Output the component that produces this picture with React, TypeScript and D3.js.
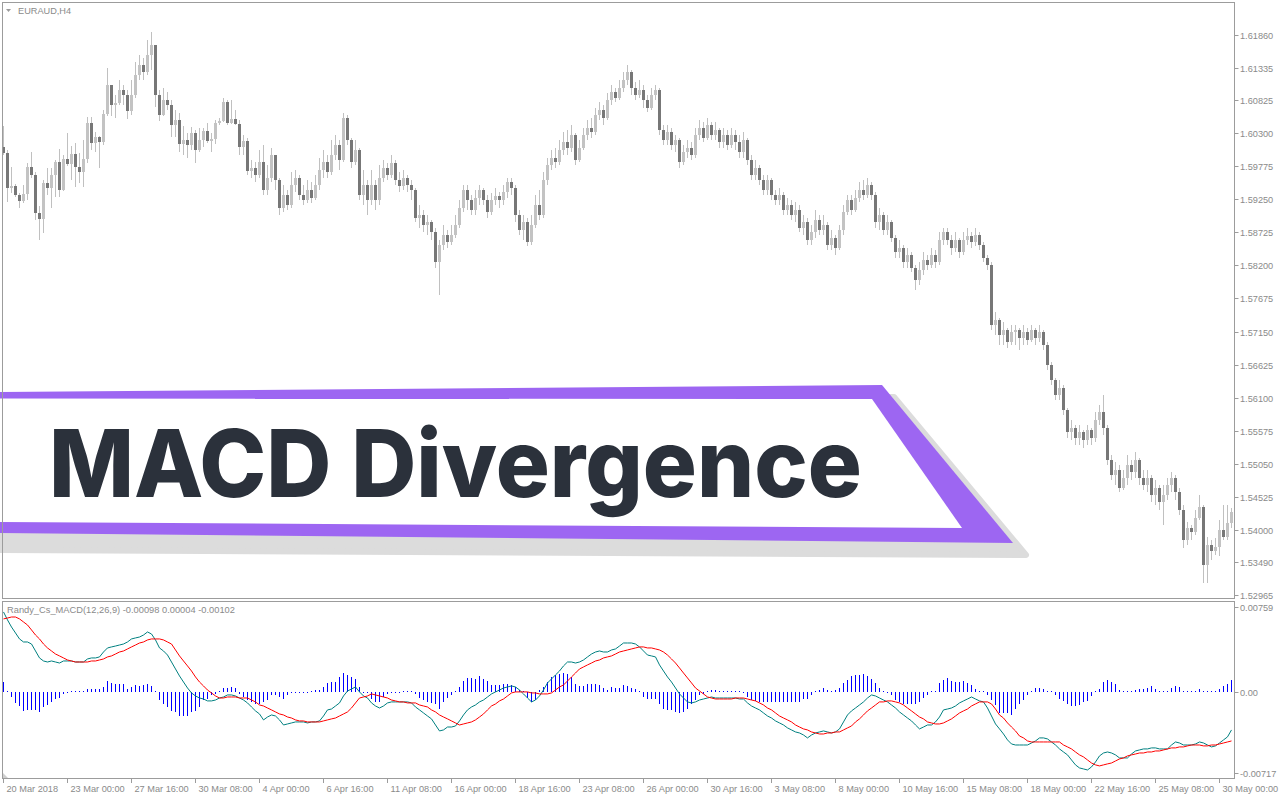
import React from "react";
import * as d3 from "d3";

// chart texts
const SYMBOL = "EURAUD,H4";
const INDICATOR = "Randy_Cs_MACD(12,26,9) -0.00098 0.00004 -0.00102";
const TITLE = "MACD Divergence";

// H4 candles (open = previous close)
const FIRST_OPEN = 1.6008;
const closes = [
  1.5999,1.5943,1.5946,1.5932,1.5922,1.5933,1.5976,1.5964,1.5903,1.5894,
  1.5951,1.5943,1.5964,1.5984,1.5940,1.5989,1.5981,1.5997,1.5976,1.5968,
  1.5989,1.6046,1.6014,1.6024,1.6016,1.6061,1.6107,1.6075,1.6078,1.6099,
  1.6091,1.6065,1.6091,1.6122,1.6138,1.6127,1.6154,1.6170,1.6091,1.6059,
  1.6083,1.6075,1.6043,1.6051,1.6013,1.6019,1.6011,1.6030,1.6003,1.6019,
  1.6034,1.6018,1.6021,1.6046,1.6049,1.6080,1.6046,1.6053,1.6045,1.6008,
  1.6018,1.5970,1.5975,1.5964,1.5984,1.5940,1.5959,1.5995,1.5956,1.5911,
  1.5932,1.5916,1.5948,1.5959,1.5932,1.5924,1.5940,1.5927,1.5948,1.5972,
  1.5984,1.5968,1.5995,1.6011,1.5987,1.6054,1.6019,1.5984,1.6003,1.5932,
  1.5948,1.5924,1.5948,1.5924,1.5959,1.5975,1.5964,1.5983,1.5956,1.5946,
  1.5959,1.5948,1.5940,1.5895,1.5900,1.5884,1.5889,1.5873,1.5825,1.5852,
  1.5868,1.5857,1.5868,1.5884,1.5911,1.5940,1.5924,1.5908,1.5927,1.5940,
  1.5924,1.5905,1.5924,1.5930,1.5924,1.5937,1.5953,1.5943,1.5900,1.5876,
  1.5889,1.5857,1.5884,1.5916,1.5900,1.5956,1.5980,1.5991,1.5984,1.6003,
  1.6016,1.6006,1.6027,1.5987,1.6006,1.6027,1.6038,1.6032,1.6059,1.6067,
  1.6054,1.6083,1.6095,1.6086,1.6102,1.6115,1.6127,1.6102,1.6091,1.6099,
  1.6083,1.6070,1.6091,1.6099,1.6035,1.6019,1.6032,1.6011,1.6019,1.5984,
  1.6000,1.6006,1.5995,1.6027,1.6038,1.6022,1.6043,1.6027,1.6035,1.6016,
  1.6027,1.6011,1.6027,1.6016,1.6000,1.6019,1.5987,1.5964,1.5975,1.5956,
  1.5940,1.5956,1.5932,1.5924,1.5932,1.5908,1.5916,1.5900,1.5908,1.5879,
  1.5889,1.5860,1.5873,1.5892,1.5876,1.5884,1.5852,1.5864,1.5848,1.5876,
  1.5905,1.5924,1.5908,1.5927,1.5940,1.5932,1.5948,1.5932,1.5889,1.5900,
  1.5876,1.5889,1.5864,1.5841,1.5848,1.5825,1.5837,1.5816,1.5797,1.5813,
  1.5829,1.5821,1.5837,1.5825,1.5860,1.5873,1.5860,1.5848,1.5860,1.5841,
  1.5860,1.5867,1.5857,1.5868,1.5852,1.5832,1.5821,1.5725,1.5733,1.5710,
  1.5717,1.5698,1.5714,1.5717,1.5705,1.5714,1.5702,1.5717,1.5705,1.5714,
  1.5694,1.5662,1.5638,1.5614,1.5625,1.5590,1.5555,1.5562,1.5546,1.5555,
  1.5543,1.5559,1.5546,1.5575,1.5587,1.5562,1.5511,1.5487,1.5495,1.5466,
  1.5482,1.5503,1.5492,1.5511,1.5482,1.5471,1.5482,1.5455,1.5466,1.5444,
  1.5455,1.5471,1.5482,1.5460,1.5431,1.5384,1.5403,1.5397,1.5419,1.5436,
  1.5344,1.5376,1.5366,1.5373,1.5400,1.5389,1.5411,1.5428,
];
const highs = [
  1.6041,1.6003,1.5976,1.5949,1.5935,1.5948,1.5983,1.6000,1.5968,1.5914,
  1.5956,1.5975,1.5975,1.5987,1.6005,1.5995,1.6030,1.6010,1.6014,1.5999,
  1.6019,1.6056,1.6056,1.6032,1.6026,1.6067,1.6134,1.6102,1.6091,1.6115,
  1.6107,1.6099,1.6115,1.6143,1.6154,1.6149,1.6178,1.6191,1.6146,1.6099,
  1.6102,1.6095,1.6083,1.6067,1.6062,1.6041,1.6030,1.6040,1.6035,1.6038,
  1.6038,1.6046,1.6030,1.6051,1.6054,1.6086,1.6083,1.6083,1.6067,1.6051,
  1.6027,1.6022,1.5987,1.5984,1.6003,1.6011,1.5980,1.6006,1.5987,1.5959,
  1.5948,1.5940,1.5968,1.5972,1.5964,1.5948,1.5956,1.5953,1.5964,1.5991,
  1.6003,1.5995,1.6019,1.6027,1.6019,1.6062,1.6059,1.6022,1.6019,1.6006,
  1.5972,1.5956,1.5972,1.5956,1.5980,1.5987,1.5983,1.5995,1.5987,1.5968,
  1.5972,1.5964,1.5956,1.5943,1.5916,1.5908,1.5900,1.5892,1.5879,1.5860,
  1.5884,1.5876,1.5884,1.5900,1.5924,1.5948,1.5948,1.5932,1.5940,1.5948,
  1.5943,1.5932,1.5935,1.5943,1.5937,1.5948,1.5959,1.5959,1.5948,1.5908,
  1.5900,1.5895,1.5900,1.5932,1.5940,1.5968,1.5991,1.6003,1.6006,1.6019,
  1.6032,1.6035,1.6043,1.6030,1.6019,1.6038,1.6051,1.6054,1.6070,1.6080,
  1.6075,1.6094,1.6107,1.6102,1.6115,1.6127,1.6138,1.6130,1.6111,1.6115,
  1.6107,1.6091,1.6102,1.6107,1.6102,1.6043,1.6043,1.6038,1.6027,1.6022,
  1.6011,1.6019,1.6016,1.6038,1.6051,1.6048,1.6054,1.6048,1.6048,1.6038,
  1.6038,1.6035,1.6038,1.6035,1.6027,1.6032,1.6022,1.5995,1.5987,1.5980,
  1.5964,1.5964,1.5959,1.5940,1.5943,1.5937,1.5927,1.5924,1.5921,1.5916,
  1.5900,1.5895,1.5884,1.5908,1.5900,1.5900,1.5889,1.5876,1.5868,1.5884,
  1.5916,1.5932,1.5932,1.5940,1.5953,1.5956,1.5959,1.5953,1.5937,1.5911,
  1.5905,1.5900,1.5892,1.5868,1.5860,1.5852,1.5848,1.5841,1.5821,1.5825,
  1.5841,1.5837,1.5848,1.5845,1.5873,1.5879,1.5879,1.5868,1.5873,1.5864,
  1.5873,1.5879,1.5873,1.5879,1.5873,1.5857,1.5837,1.5825,1.5746,1.5737,
  1.5730,1.5721,1.5725,1.5725,1.5721,1.5725,1.5721,1.5725,1.5721,1.5725,
  1.5717,1.5698,1.5667,1.5641,1.5638,1.5630,1.5593,1.5575,1.5567,1.5567,
  1.5559,1.5567,1.5562,1.5587,1.5598,1.5614,1.5567,1.5519,1.5508,1.5503,
  1.5495,1.5519,1.5511,1.5524,1.5514,1.5495,1.5495,1.5487,1.5479,1.5471,
  1.5471,1.5482,1.5492,1.5487,1.5466,1.5439,1.5412,1.5408,1.5431,1.5455,
  1.5439,1.5389,1.5384,1.5387,1.5416,1.5439,1.5439,1.5435,
];
const lows = [
  1.5995,1.5921,1.5935,1.5929,1.5911,1.5919,1.5924,1.5959,1.5892,1.5860,
  1.5872,1.5932,1.5911,1.5929,1.5929,1.5938,1.5978,1.5956,1.5945,1.5951,
  1.5945,1.5983,1.6003,1.6000,1.5975,1.6011,1.6057,1.6057,1.6054,1.6075,
  1.6075,1.6053,1.6059,1.6086,1.6115,1.6115,1.6122,1.6130,1.6072,1.6049,
  1.6057,1.6067,1.6024,1.6024,1.6000,1.5995,1.5991,1.6003,1.5983,1.6000,
  1.6008,1.6014,1.6000,1.6013,1.6043,1.6048,1.6043,1.6045,1.6043,1.5995,
  1.5995,1.5964,1.5959,1.5953,1.5959,1.5932,1.5932,1.5953,1.5940,1.5900,
  1.5905,1.5908,1.5911,1.5937,1.5924,1.5916,1.5919,1.5919,1.5924,1.5940,
  1.5959,1.5959,1.5964,1.5987,1.5972,1.5984,1.6011,1.5975,1.5980,1.5924,
  1.5916,1.5900,1.5916,1.5908,1.5916,1.5953,1.5956,1.5959,1.5948,1.5937,
  1.5940,1.5937,1.5924,1.5889,1.5879,1.5873,1.5868,1.5860,1.5816,1.5773,
  1.5845,1.5848,1.5852,1.5864,1.5879,1.5905,1.5908,1.5900,1.5900,1.5916,
  1.5916,1.5895,1.5900,1.5916,1.5911,1.5916,1.5927,1.5932,1.5889,1.5868,
  1.5860,1.5851,1.5852,1.5879,1.5892,1.5895,1.5948,1.5972,1.5975,1.5980,
  1.5995,1.5995,1.6000,1.5980,1.5984,1.6003,1.6019,1.6022,1.6027,1.6051,
  1.6043,1.6051,1.6075,1.6080,1.6083,1.6095,1.6107,1.6091,1.6083,1.6086,
  1.6070,1.6064,1.6067,1.6083,1.6027,1.6011,1.6011,1.6003,1.6000,1.5975,
  1.5980,1.5991,1.5987,1.5991,1.6019,1.6016,1.6019,1.6019,1.6019,1.6006,
  1.6006,1.6003,1.6006,1.6003,1.5991,1.5991,1.5980,1.5956,1.5956,1.5948,
  1.5932,1.5932,1.5924,1.5916,1.5916,1.5900,1.5900,1.5892,1.5889,1.5873,
  1.5868,1.5852,1.5852,1.5864,1.5868,1.5868,1.5845,1.5845,1.5837,1.5845,
  1.5868,1.5900,1.5900,1.5905,1.5921,1.5924,1.5927,1.5924,1.5879,1.5876,
  1.5868,1.5868,1.5857,1.5832,1.5832,1.5816,1.5816,1.5810,1.5781,1.5789,
  1.5805,1.5813,1.5816,1.5816,1.5821,1.5852,1.5852,1.5837,1.5841,1.5832,
  1.5837,1.5852,1.5848,1.5851,1.5845,1.5825,1.5813,1.5717,1.5710,1.5694,
  1.5694,1.5689,1.5694,1.5694,1.5686,1.5694,1.5694,1.5698,1.5694,1.5698,
  1.5686,1.5654,1.5630,1.5606,1.5606,1.5582,1.5546,1.5543,1.5535,1.5535,
  1.5530,1.5535,1.5535,1.5540,1.5567,1.5551,1.5503,1.5479,1.5471,1.5460,
  1.5463,1.5471,1.5479,1.5482,1.5471,1.5463,1.5460,1.5444,1.5439,1.5431,
  1.5408,1.5447,1.5460,1.5447,1.5424,1.5371,1.5376,1.5384,1.5392,1.5416,
  1.5316,1.5316,1.5352,1.5360,1.5359,1.5384,1.5384,1.5403,
];

// MACD panel, values in points (1e-5)
const macdPts = [
  715,644,581,528,475,448,448,430,368,306,
  279,270,279,270,261,279,279,279,270,270,
  270,297,306,306,315,359,395,404,412,421,
  430,448,475,484,492,510,537,519,466,395,
  368,332,270,208,146,92,39,-5,-32,-50,
  -59,-76,-76,-68,-50,-41,-23,-23,-32,-50,
  -68,-94,-130,-165,-192,-245,-219,-201,-210,-245,
  -290,-281,-272,-263,-263,-263,-272,-263,-263,-254,
  -210,-156,-148,-121,-94,-32,12,30,48,4,
  -32,-50,-94,-121,-139,-121,-94,-85,-85,-85,
  -85,-85,-94,-130,-156,-183,-210,-236,-290,-343,
  -334,-308,-308,-299,-254,-201,-156,-130,-112,-85,
  -68,-41,-14,4,21,39,48,57,48,21,
  -14,-50,-85,-68,-32,21,84,119,155,190,
  235,270,270,261,270,288,315,341,359,368,
  359,359,377,386,412,439,439,439,430,404,
  368,332,324,315,244,190,137,92,39,-14,
  -50,-85,-94,-85,-68,-59,-50,-41,-50,-50,
  -50,-50,-50,-50,-59,-59,-94,-121,-139,-156,
  -183,-210,-228,-254,-272,-290,-316,-334,-352,-361,
  -379,-405,-379,-361,-352,-343,-352,-361,-352,-325,
  -263,-201,-165,-139,-112,-85,-50,-23,-32,-50,
  -68,-85,-112,-139,-174,-201,-228,-254,-290,-325,
  -308,-290,-290,-263,-219,-156,-148,-139,-121,-94,
  -76,-59,-41,-59,-76,-85,-139,-210,-281,-325,
  -370,-423,-459,-468,-468,-468,-468,-450,-432,-405,
  -405,-414,-441,-468,-503,-530,-556,-601,-645,-672,
  -681,-690,-663,-619,-565,-539,-530,-539,-556,-583,
  -583,-583,-548,-521,-512,-503,-503,-494,-494,-503,
  -503,-503,-468,-441,-450,-468,-468,-468,-459,-441,
  -450,-468,-485,-476,-450,-423,-396,-334,
];
const signalPts = [
  653,661,670,670,653,626,599,555,510,475,
  430,395,368,341,324,306,288,279,270,270,
  270,270,279,279,288,297,315,324,341,359,
  368,386,404,421,439,448,466,475,475,475,
  466,448,430,377,324,279,235,190,137,92,
  57,21,-5,-32,-50,-50,-41,-41,-41,-50,
  -50,-50,-68,-85,-112,-121,-139,-156,-174,-192,
  -201,-219,-228,-245,-254,-254,-263,-263,-263,-263,
  -254,-245,-236,-228,-210,-192,-174,-139,-94,-50,
  -41,-32,-14,-23,-32,-41,-50,-68,-76,-85,
  -85,-94,-94,-94,-112,-121,-130,-156,-174,-201,
  -219,-236,-254,-272,-290,-281,-272,-263,-245,-219,
  -192,-156,-121,-103,-76,-59,-32,-5,4,4,
  4,4,-5,-5,-14,-14,-14,-5,21,48,
  66,101,137,172,208,226,244,261,279,288,
  306,315,324,341,359,368,377,386,395,404,
  404,395,395,386,377,359,332,297,261,217,
  172,128,84,39,12,-14,-41,-50,-59,-59,
  -59,-59,-59,-50,-50,-50,-59,-68,-76,-94,
  -112,-139,-156,-183,-210,-228,-245,-263,-290,-308,
  -325,-334,-352,-361,-370,-370,-361,-361,-352,-352,
  -334,-316,-299,-263,-236,-201,-165,-139,-112,-85,
  -85,-76,-76,-85,-94,-112,-139,-165,-192,-219,
  -236,-263,-272,-281,-281,-272,-254,-236,-210,-183,
  -165,-148,-121,-103,-85,-85,-85,-103,-148,-201,
  -228,-272,-308,-343,-388,-405,-432,-441,-441,-441,
  -441,-441,-441,-441,-441,-468,-485,-503,-530,-556,
  -574,-601,-628,-645,-654,-645,-636,-628,-610,-592,
  -583,-565,-556,-548,-539,-539,-530,-530,-521,-521,
  -512,-503,-494,-494,-485,-485,-476,-468,-468,-468,
  -476,-476,-468,-468,-459,-450,-441,-432,
];
const histPts = [
  95,15,-45,-98,-125,-169,-160,-160,-160,-178,
  -134,-116,-89,-62,-53,-18,-3,6,6,6,
  6,27,27,27,27,45,98,80,71,71,
  71,27,45,62,53,62,71,53,2,-71,
  -107,-134,-169,-178,-214,-214,-214,-178,-169,-134,
  -71,-62,-27,-18,3,36,36,45,36,-18,
  -45,-71,-89,-107,-107,-89,-71,-27,-27,-45,
  -62,-27,-9,-9,-9,-9,-9,9,18,18,
  45,80,89,89,134,169,151,134,116,45,
  -9,-9,-62,-89,-89,-45,-18,-9,-9,-9,
  9,9,9,-18,-53,-71,-89,-98,-107,-151,
  -89,-53,-27,9,45,98,125,125,116,142,
  116,98,62,62,62,71,71,62,45,18,
  2,-53,-89,-71,18,45,89,134,151,160,
  169,160,134,71,53,53,71,71,71,62,
  36,18,45,36,36,62,53,36,27,2,
  -45,-62,-62,-62,-107,-151,-160,-160,-178,-187,
  -178,-151,-107,-71,-27,-18,9,18,18,9,
  9,9,2,2,2,-9,-45,-71,-80,-89,
  -89,-89,-89,-89,-89,-89,-89,-89,-89,-89,
  -62,-62,-27,2,18,36,18,9,18,36,
  80,107,142,151,151,160,142,116,80,36,
  2,-9,-27,-71,-89,-107,-107,-107,-107,-89,
  -53,-27,2,9,80,107,125,98,89,89,
  98,80,62,27,9,2,-27,-71,-116,-187,
  -187,-187,-205,-151,-107,-71,-27,2,36,36,
  27,9,2,-27,-62,-80,-107,-125,-125,-116,
  -89,-80,-36,2,27,89,107,89,71,18,
  9,2,9,18,27,27,36,53,27,9,
  9,9,36,53,45,9,9,2,9,27,
  9,9,9,2,27,53,71,107,
];

// axes
const priceTicks = [
  1.6186, 1.61335, 1.60825, 1.603, 1.59775, 1.5925, 1.58725, 1.582, 1.57675,
  1.5715, 1.56625, 1.561, 1.55575, 1.5505, 1.54525, 1.54, 1.5349, 1.52965,
];
const macdTicks = [0.00759, 0, -0.00717];
const dateLabels = [
  "20 Mar 2018", "23 Mar 00:00", "27 Mar 16:00", "30 Mar 08:00", "4 Apr 00:00",
  "6 Apr 16:00", "11 Apr 08:00", "16 Apr 00:00", "18 Apr 16:00", "23 Apr 08:00",
  "26 Apr 00:00", "30 Apr 16:00", "3 May 08:00", "8 May 00:00", "10 May 16:00",
  "15 May 08:00", "18 May 00:00", "22 May 16:00", "25 May 08:00", "30 May 00:00",
];
const BARS_PER_LABEL = 16;

const AXIS_FONT = "'Liberation Sans', Arial, sans-serif";
const AXIS_COLOR = "#8a8a8a";
const FRAME = "#9c9c9c";

export default function App() {
  const W = 1280;
  const H = 800;
  const N = closes.length;
  const left = 2;
  const right = 1234;
  const main = { top: 2, bottom: 598 };
  const sub = { top: 601, bottom: 778 };

  const x = d3.scaleLinear().domain([0, N]).range([left, left + 4 * N]);
  const y = d3.scaleLinear().domain([1.52965, 1.6186]).range([595, 35]);
  const ym = d3.scaleLinear().domain([-0.00717, 0.00759]).range([773, 607]);
  const pt = (v: number) => v * 1e-5;

  const opens = closes.map((c, i) => (i === 0 ? FIRST_OPEN : closes[i - 1]));

  const macdPath = d3
    .line<number>()
    .x((_, i) => x(i) + 1.5)
    .y((v) => ym(pt(v)))(macdPts) as string;
  const signalPath = d3
    .line<number>()
    .x((_, i) => x(i) + 1.5)
    .y((v) => ym(pt(v)))(signalPts) as string;

  const zero = Math.round(ym(0));

  return (
    <div style={{ position: "absolute", left: 0, top: 0, width: W, height: H, background: "#fff" }}>
      <svg width={W} height={H} viewBox={`0 0 ${W} ${H}`} style={{ display: "block" }}>
        <defs>
          <clipPath id="clipMain">
            <rect x={left + 1} y={main.top + 1} width={right - left - 1} height={main.bottom - main.top - 1} />
          </clipPath>
          <clipPath id="clipSub">
            <rect x={left + 1} y={sub.top + 1} width={right - left - 1} height={sub.bottom - sub.top - 1} />
          </clipPath>
        </defs>
        <rect x={0} y={0} width={W} height={H} fill="#ffffff" />

        {/* candles */}
        <g clipPath="url(#clipMain)" shapeRendering="crispEdges">
          {closes.map((c, i) => {
            const o = opens[i];
            const hi = Math.max(highs[i], o, c);
            const lo = Math.min(lows[i], o, c);
            const bx = Math.round(x(i));
            const top = Math.round(y(Math.max(o, c)));
            const bot = Math.round(y(Math.min(o, c)));
            const bull = c >= o;
            return (
              <g key={i}>
                <rect
                  x={bx + 1}
                  y={Math.round(y(hi))}
                  width={1}
                  height={Math.max(1, Math.round(y(lo)) - Math.round(y(hi)))}
                  fill="#c0c0c0"
                />
                <rect
                  x={bx}
                  y={top}
                  width={3}
                  height={Math.max(1, bot - top)}
                  fill={bull ? "#c3c3c3" : "#777777"}
                />
              </g>
            );
          })}
        </g>

        {/* MACD panel */}
        <g clipPath="url(#clipSub)">
          <g shapeRendering="crispEdges">
            {histPts.map((v, i) => {
              const yy = Math.round(ym(pt(v)));
              const h = Math.max(1, Math.abs(yy - zero));
              return (
                <rect
                  key={i}
                  x={Math.round(x(i)) + 1}
                  y={v >= 0 ? zero - h : zero}
                  width={1}
                  height={h}
                  fill="#0000ff"
                />
              );
            })}
          </g>
          <path d={macdPath} fill="none" stroke="#008080" strokeWidth={1} />
          <path d={signalPath} fill="none" stroke="#ff0000" strokeWidth={1} />
        </g>

        {/* banner */}
        <polygon
          points="0,402 894,397 1026,555 0,550"
          fill="#dcdcdc"
          stroke="#dcdcdc"
          strokeWidth={6}
          strokeLinejoin="round"
        />
        <polygon points="0,392 882,385 1013,543 0,533" fill="#9d66f2" />
        <polygon points="0,398.5 872,399 962,528 0,522" fill="#ffffff" />
        <text
          x={49}
          y={497}
          fontFamily="Inter, Roboto, 'Liberation Sans', Arial, sans-serif"
          fontWeight={800}
          fontSize={94}
          fill="#2b313b"
          textLength={813}
          lengthAdjust="spacingAndGlyphs"
        >
          {TITLE}
        </text>

        {/* frames */}
        <g fill="none" stroke={FRAME} strokeWidth={1} shapeRendering="crispEdges">
          <rect x={left + 0.5} y={main.top + 0.5} width={right - left} height={main.bottom - main.top} />
          <rect x={left + 0.5} y={sub.top + 0.5} width={right - left} height={sub.bottom - sub.top} />
        </g>
        <polygon points="3,773 3,778 8,778" fill="#cfcfcf" />

        {/* labels */}
        <polygon points="6,9 11,9 8.5,12" fill="#9a9a9a" />
        <text x={18} y={14} fontFamily={AXIS_FONT} fontSize={9.2} fill={AXIS_COLOR}>
          {SYMBOL}
        </text>
        <text x={7} y={613} fontFamily={AXIS_FONT} fontSize={9.3} fill={AXIS_COLOR}>
          {INDICATOR}
        </text>

        {/* price axis */}
        <g fontFamily={AXIS_FONT} fontSize={9.2} fill={AXIS_COLOR}>
          {priceTicks.map((p) => {
            const yy = Math.round(y(p)) + 0.5;
            return (
              <g key={p}>
                <line x1={right + 0.5} x2={right + 4.5} y1={yy} y2={yy} stroke={FRAME} />
                <text x={right + 6} y={yy} dy="0.36em">
                  {p.toFixed(5)}
                </text>
              </g>
            );
          })}
          {macdTicks.map((v) => {
            const yy = Math.round(ym(v)) + 0.5;
            return (
              <g key={v}>
                <line x1={right + 0.5} x2={right + 4.5} y1={yy} y2={yy} stroke={FRAME} />
                <text x={right + 6} y={yy} dy="0.36em">
                  {v === 0 ? "0.00" : v.toFixed(5)}
                </text>
              </g>
            );
          })}
        </g>

        {/* time axis */}
        <g fontFamily={AXIS_FONT} fontSize={9.2} fill={AXIS_COLOR}>
          {dateLabels.map((d, k) => {
            const xx = Math.round(x(k * BARS_PER_LABEL)) + 1.5;
            return (
              <g key={d}>
                <line x1={xx} x2={xx} y1={sub.bottom + 0.5} y2={sub.bottom + 5} stroke={FRAME} />
                <text x={xx + 3} y={792}>
                  {d}
                </text>
              </g>
            );
          })}
        </g>
      </svg>
    </div>
  );
}
